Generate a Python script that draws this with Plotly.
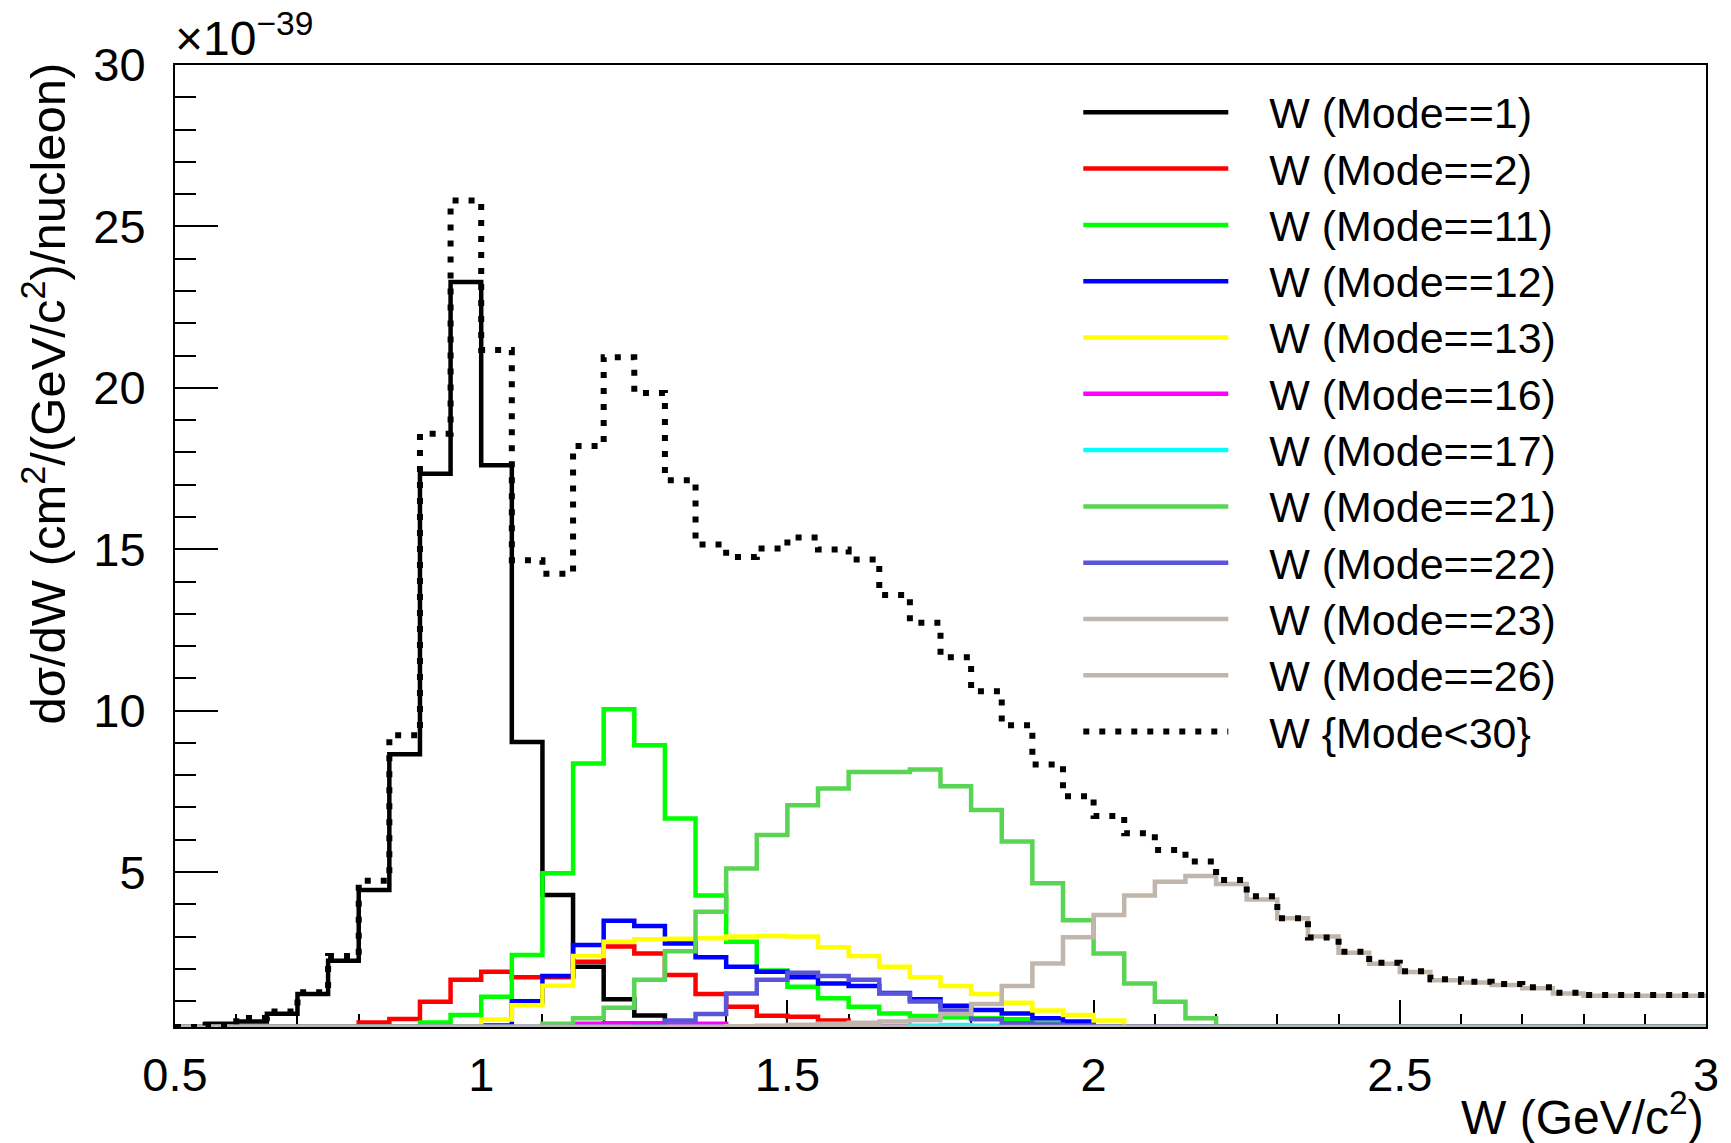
import numpy as np
import plotly.graph_objects as go

# ---- binning (W in GeV/c^2) ----
W_LOW, W_HIGH, N_BINS = 0.5, 3.0, 50
Y_MIN, Y_MAX = 0.2, 30.0

# ---- histogram contents (x10^-39 cm^2/(GeV/c^2)/nucleon), one value per 0.05 bin from 0.5 ----
mode1 = [0.15, 0.3, 0.37, 0.61, 1.22, 2.25, 4.44, 8.65, 17.34, 23.28,
         17.6, 9.03, 4.29, 2.07, 1.06, 0.56, 0, 0, 0, 0,
         0, 0, 0, 0, 0, 0, 0, 0, 0, 0,
         0, 0, 0, 0, 0, 0, 0, 0, 0, 0,
         0, 0, 0, 0, 0, 0, 0, 0, 0, 0]
mode2 = [0, 0, 0, 0, 0, 0, 0.34, 0.45, 0.98, 1.66,
         1.91, 1.74, 1.74, 2.22, 2.69, 2.48, 1.81, 1.22, 0.83, 0.55,
         0.52, 0.4, 0.25, 0, 0, 0, 0, 0, 0, 0,
         0, 0, 0, 0, 0, 0, 0, 0, 0, 0,
         0, 0, 0, 0, 0, 0, 0, 0, 0, 0]
mode11 = [0, 0, 0, 0, 0, 0, 0, 0, 0.34, 0.57,
          1.14, 2.43, 4.96, 8.36, 10.04, 8.93, 6.66, 4.27, 2.84, 1.95,
          1.45, 1.09, 0.83, 0.62, 0.54, 0.5, 0.47, 0.44, 0.33, 0.28,
          0, 0, 0, 0, 0, 0, 0, 0, 0, 0,
          0, 0, 0, 0, 0, 0, 0, 0, 0, 0]
mode12 = [0, 0, 0, 0, 0, 0, 0, 0, 0, 0,
          0.25, 1.0, 1.78, 2.74, 3.49, 3.33, 2.79, 2.36, 2.07, 1.91,
          1.74, 1.55, 1.47, 1.25, 1.06, 0.86, 0.73, 0.62, 0.47, 0.37,
          0, 0, 0, 0, 0, 0, 0, 0, 0, 0,
          0, 0, 0, 0, 0, 0, 0, 0, 0, 0]
mode13 = [0, 0, 0, 0, 0, 0, 0, 0, 0, 0.15,
          0.43, 0.87, 1.48, 2.40, 2.84, 2.92, 2.93, 2.95, 3.0, 3.02,
          3.0, 2.67, 2.40, 2.07, 1.74, 1.47, 1.22, 0.95, 0.71, 0.57,
          0.4, 0, 0, 0, 0, 0, 0, 0, 0, 0,
          0, 0, 0, 0, 0, 0, 0, 0, 0, 0]
mode16 = [0, 0, 0, 0, 0, 0, 0, 0, 0, 0,
          0, 0, 0, 0.3, 0.32, 0.32, 0.28, 0.3, 0, 0,
          0, 0, 0, 0, 0, 0, 0, 0, 0, 0,
          0, 0, 0, 0, 0, 0, 0, 0, 0, 0,
          0, 0, 0, 0, 0, 0, 0, 0, 0, 0]
mode17 = [0, 0, 0, 0, 0, 0, 0, 0, 0, 0,
          0, 0, 0, 0, 0, 0, 0, 0, 0, 0,
          0, 0, 0, 0, 0.24, 0.26, 0.24, 0.24, 0, 0,
          0, 0, 0, 0, 0, 0, 0, 0, 0, 0,
          0, 0, 0, 0, 0, 0, 0, 0, 0, 0]
mode21 = [0, 0, 0, 0, 0, 0, 0, 0, 0, 0,
          0, 0, 0.3, 0.47, 0.8, 1.66, 2.55, 3.77, 5.11, 6.15,
          7.07, 7.59, 8.1, 8.1, 8.18, 7.66, 6.92, 5.95, 4.65, 3.51,
          2.48, 1.55, 0.98, 0.47, 0, 0, 0, 0, 0, 0,
          0, 0, 0, 0, 0, 0, 0, 0, 0, 0]
mode22 = [0, 0, 0, 0, 0, 0, 0, 0, 0, 0,
          0, 0, 0, 0, 0, 0.25, 0.4, 0.6, 1.24, 1.66,
          1.88, 1.78, 1.66, 1.24, 0.99, 0.71, 0.44, 0.32, 0.28, 0.25,
          0, 0, 0, 0, 0, 0, 0, 0, 0, 0,
          0, 0, 0, 0, 0, 0, 0, 0, 0, 0]
mode23 = [0, 0, 0, 0, 0, 0, 0, 0, 0, 0,
          0, 0, 0, 0, 0, 0, 0, 0, 0.22, 0.24,
          0.27, 0.3, 0.33, 0.37, 0.42, 0.6, 0.91, 1.47, 2.17, 2.98,
          3.67, 4.27, 4.70, 4.88, 4.63, 4.15, 3.57, 3.0, 2.5, 2.16,
          1.9, 1.65, 1.58, 1.5, 1.4, 1.24, 1.17, 1.17, 1.17, 1.17]
mode26 = [0] * 50
mode_all = [0.15, 0.26, 0.48, 0.68, 1.28, 2.4, 4.73, 9.24, 18.58, 25.8,
            21.17, 14.66, 14.24, 18.2, 20.95, 19.84, 17.14, 15.15, 14.76, 15.02,
            15.36, 14.99, 14.68, 13.58, 12.72, 11.65, 10.6, 9.55, 8.33, 7.35,
            6.74, 6.2, 5.68, 5.33, 4.75, 4.25, 3.57, 2.97, 2.53, 2.19,
            1.93, 1.68, 1.6, 1.53, 1.43, 1.26, 1.19, 1.19, 1.19, 1.19]

series = [
    ("W (Mode==1)", mode1, "#000000", "solid"),
    ("W (Mode==2)", mode2, "#ff0000", "solid"),
    ("W (Mode==11)", mode11, "#00ff00", "solid"),
    ("W (Mode==12)", mode12, "#0000ff", "solid"),
    ("W (Mode==13)", mode13, "#ffff00", "solid"),
    ("W (Mode==16)", mode16, "#ff00ff", "solid"),
    ("W (Mode==17)", mode17, "#00ffff", "solid"),
    ("W (Mode==21)", mode21, "#59d454", "solid"),
    ("W (Mode==22)", mode22, "#5954d9", "solid"),
    ("W (Mode==23)", mode23, "#c0b6ac", "solid"),
    ("W (Mode==26)", mode26, "#c0b6ac", "solid"),
    ("W {Mode<30}", mode_all, "#000000", "6px,10px"),
]

edges = np.linspace(W_LOW, W_HIGH, N_BINS + 1)

FONT = "Liberation Sans, Arial, Helvetica, sans-serif"
PAD = "\u00a0\u00a0\u00a0"  # gap between legend line sample and its label
fig = go.Figure()
for name, vals, color, dash in series:
    v = np.maximum(np.asarray(vals, dtype=float), Y_MIN)  # ROOT draws under-range bins at the axis minimum
    y = np.append(v, v[-1])
    fig.add_trace(go.Scatter(
        x=edges, y=y, mode="lines",
        name='<span style="font-size:43px">' + PAD + name + "</span>",
        line=dict(color=color, width=6 if dash != "solid" else 4.5, dash=dash, shape="hv"),
        hoverinfo="skip",
    ))

fig.update_layout(
    width=1731, height=1143,
    margin=dict(l=175, r=25, t=64.5, b=116),
    paper_bgcolor="white", plot_bgcolor="white",
    font=dict(family=FONT, color="black", size=46),
    showlegend=True,
    legend=dict(
        x=0.59, y=0.9853, xanchor="left", yanchor="top",
        bgcolor="rgba(0,0,0,0)", borderwidth=0,
        font=dict(family=FONT, size=41, color="black"),
        itemwidth=145, tracegroupgap=0,
    ),
    xaxis=dict(
        range=[W_LOW, W_HIGH], showgrid=False, zeroline=False,
        showline=True, linecolor="black", linewidth=2, mirror=True,
        ticks="inside", ticklen=27, tickwidth=2, tickcolor="black",
        tickmode="array", tickvals=[0.5, 1, 1.5, 2, 2.5, 3],
        ticktext=["0.5", "1", "1.5", "2", "2.5", "3"],
        minor=dict(dtick=0.1, ticks="inside", ticklen=13, tickwidth=2, tickcolor="black"),
        tickfont=dict(size=47), ticklabelstandoff=6, layer="below traces",
    ),
    yaxis=dict(
        range=[Y_MIN, Y_MAX], showgrid=False, zeroline=False,
        showline=True, linecolor="black", linewidth=2, mirror=True,
        ticks="inside", ticklen=43, tickwidth=2, tickcolor="black",
        tickmode="array", tickvals=[5, 10, 15, 20, 25, 30],
        minor=dict(dtick=1, ticks="inside", ticklen=21, tickwidth=2, tickcolor="black"),
        tickfont=dict(size=47), ticklabelstandoff=18, layer="below traces",
    ),
    annotations=[
        dict(text="×10<sup>−39</sup>", x=0, y=1, xref="paper", yref="paper",
             xanchor="left", yanchor="bottom", showarrow=False,
             font=dict(size=48, family=FONT), xshift=-2, yshift=-2),
        dict(text="W (GeV/c<sup>2</sup>)", x=1, y=-0.09, xref="paper", yref="paper",
             xanchor="right", yanchor="middle", showarrow=False,
             font=dict(size=48, family=FONT)),
        dict(text="dσ/dW (cm<sup>2</sup>/(GeV/c<sup>2</sup>)/nucleon)", x=-0.0852, y=0.658,
             xref="paper", yref="paper", xanchor="center", yanchor="middle",
             textangle=-90, showarrow=False, font=dict(size=49, family=FONT)),
    ],
)

fig.write_html("out.html")
